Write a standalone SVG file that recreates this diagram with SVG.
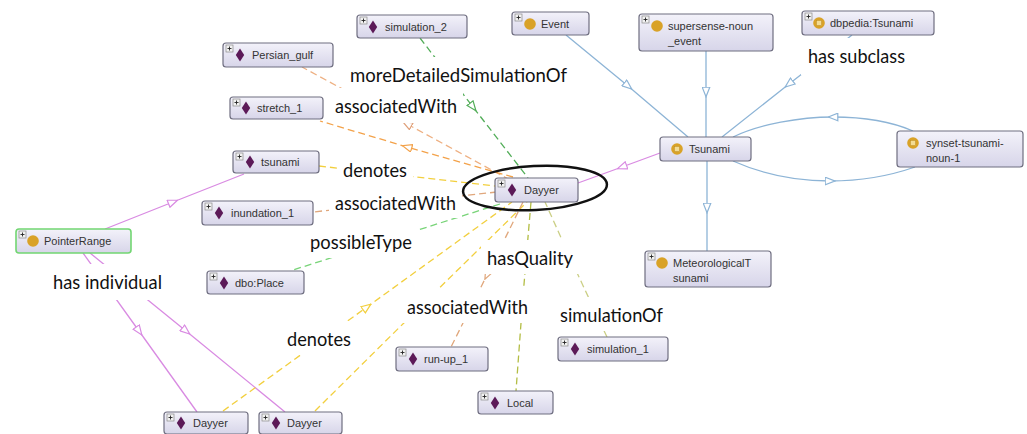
<svg xmlns="http://www.w3.org/2000/svg" xmlns:xlink="http://www.w3.org/1999/xlink" width="1027" height="434" viewBox="0 0 1027 434">
<style>
.box{fill:url(#boxg);stroke:#6f6e80;stroke-width:1.2}
.boxg{fill:url(#boxg);stroke:#72d672;stroke-width:1.6}
.nt{font-family:"Liberation Sans",Arial,sans-serif;font-size:11px;fill:#333}
.lbl{font-family:Lato,"Liberation Sans",sans-serif;font-size:19px;fill:#111}
.bg{fill:#fff}
.e{fill:none;stroke-width:1.3}
.d{stroke-dasharray:7 4}
</style>
<defs>
<linearGradient id="boxg" x1="0" y1="0" x2="0" y2="1">
<stop offset="0" stop-color="#f3f2fa"/>
<stop offset="1" stop-color="#d7d5e9"/>
</linearGradient>
<g id="plus"><rect x="0" y="0" width="7" height="7" fill="#f2f2f2" stroke="#8a8a8a" stroke-width="0.7"/><path d="M1.5,3.5H5.5M3.5,1.5V5.5" stroke="#222" stroke-width="0.9"/></g>
<path id="dia" d="M0,-6.5L4.2,0L0,6.5L-4.2,0Z" fill="#5c1a58"/>
<circle id="cls" r="5.8" fill="#d9a227"/>
<g id="eq"><circle r="5.8" fill="#d9a227"/><rect x="-2.6" y="-2.6" width="5.2" height="5.2" fill="#f3dc94" stroke="#b98a1e" stroke-width="0.5"/></g>
<marker id="m-blue" viewBox="0 0 11 9" refX="5.5" refY="4.5" markerWidth="11" markerHeight="9" markerUnits="userSpaceOnUse" orient="auto"><path d="M0.7,0.7L10.3,4.5L0.7,8.3Z" fill="#fff" stroke="#8db4d6" stroke-width="1.2"/></marker>
<marker id="m-mag" viewBox="0 0 11 9" refX="5.5" refY="4.5" markerWidth="11" markerHeight="9" markerUnits="userSpaceOnUse" orient="auto"><path d="M0.7,0.7L10.3,4.5L0.7,8.3Z" fill="#fff" stroke="#d98be2" stroke-width="1.2"/></marker>
<marker id="m-green" viewBox="0 0 11 9" refX="5.5" refY="4.5" markerWidth="11" markerHeight="9" markerUnits="userSpaceOnUse" orient="auto"><path d="M0.7,0.7L10.3,4.5L0.7,8.3Z" fill="#fff" stroke="#52ad58" stroke-width="1.2"/></marker>
<marker id="m-orange" viewBox="0 0 11 9" refX="5.5" refY="4.5" markerWidth="11" markerHeight="9" markerUnits="userSpaceOnUse" orient="auto"><path d="M0.7,0.7L10.3,4.5L0.7,8.3Z" fill="#fff" stroke="#f3a24a" stroke-width="1.2"/></marker>
<marker id="m-peach" viewBox="0 0 11 9" refX="5.5" refY="4.5" markerWidth="11" markerHeight="9" markerUnits="userSpaceOnUse" orient="auto"><path d="M0.7,0.7L10.3,4.5L0.7,8.3Z" fill="#fff" stroke="#dfa07a" stroke-width="1.2"/></marker>
<marker id="m-tan" viewBox="0 0 11 9" refX="5.5" refY="4.5" markerWidth="11" markerHeight="9" markerUnits="userSpaceOnUse" orient="auto"><path d="M0.7,0.7L10.3,4.5L0.7,8.3Z" fill="#fff" stroke="#e0a77c" stroke-width="1.2"/></marker>
<marker id="m-yellow" viewBox="0 0 11 9" refX="5.5" refY="4.5" markerWidth="11" markerHeight="9" markerUnits="userSpaceOnUse" orient="auto"><path d="M0.7,0.7L10.3,4.5L0.7,8.3Z" fill="#fff" stroke="#f2cf3e" stroke-width="1.2"/></marker>
<marker id="m-lgreen" viewBox="0 0 11 9" refX="5.5" refY="4.5" markerWidth="11" markerHeight="9" markerUnits="userSpaceOnUse" orient="auto"><path d="M0.7,0.7L10.3,4.5L0.7,8.3Z" fill="#fff" stroke="#78d478" stroke-width="1.2"/></marker>
<marker id="m-olive" viewBox="0 0 11 9" refX="5.5" refY="4.5" markerWidth="11" markerHeight="9" markerUnits="userSpaceOnUse" orient="auto"><path d="M0.7,0.7L10.3,4.5L0.7,8.3Z" fill="#fff" stroke="#b3bd44" stroke-width="1.2"/></marker>
<marker id="m-lolive" viewBox="0 0 11 9" refX="5.5" refY="4.5" markerWidth="11" markerHeight="9" markerUnits="userSpaceOnUse" orient="auto"><path d="M0.7,0.7L10.3,4.5L0.7,8.3Z" fill="#fff" stroke="#cbcf85" stroke-width="1.2"/></marker>
</defs>
<rect width="1027" height="434" fill="#fff"/>
<g id="connectors">
<path class="e" stroke="#8db4d6" marker-mid="url(#m-blue)" d="M566,35L628,86L688,137"/>
<path class="e" stroke="#8db4d6" marker-mid="url(#m-blue)" d="M706,51L706,92L706,137"/>
<path class="e" stroke="#8db4d6" marker-mid="url(#m-blue)" d="M852,35L789,84L722,137"/>
<path class="e" stroke="#8db4d6" marker-mid="url(#m-blue)" d="M707,161L707,208L707,251"/>
<path class="e" stroke="#8db4d6" marker-mid="url(#m-blue)" d="M913,131C890,121 860,117 833,117C800,117 760,124 733,137"/>
<path class="e" stroke="#8db4d6" marker-mid="url(#m-blue)" d="M733,161C760,173 795,181 830,181C865,181 895,174 915,167"/>
<path class="e" stroke="#d98be2" marker-mid="url(#m-mag)" d="M660,153L622,167L578,183"/>
<path class="e" stroke="#d98be2" marker-mid="url(#m-mag)" d="M105,229L173,202L244,174"/>
<path class="e" stroke="#d98be2" marker-mid="url(#m-mag)" d="M83,253L139,331L197,412"/>
<path class="e" stroke="#d98be2" marker-mid="url(#m-mag)" d="M90,253L186,331L285,412"/>
<path class="e d" stroke="#52ad58" marker-mid="url(#m-green)" d="M420,38L473,107L528,178"/>
<path class="e d" stroke="#eeb082" marker-mid="url(#m-peach)" d="M510,180L407,124L302,67"/>
<path class="e d" stroke="#f3a24a" marker-mid="url(#m-orange)" d="M513,177L407,147L320,121"/>
<path class="e d" stroke="#f2cf3e" marker-mid="url(#m-yellow)" d="M319,166L407,176L495,186"/>
<path class="e d" stroke="#e0a77c" marker-mid="url(#m-tan)" d="M497,192L405,202L313,212"/>
<path class="e d" stroke="#78d478" marker-mid="url(#m-lgreen)" d="M500,204L396,237L293,270"/>
<path class="e d" stroke="#f2cf3e" marker-mid="url(#m-yellow)" d="M223,411L367,307L512,202"/>
<path class="e d" stroke="#f2cf3e" marker-mid="url(#m-yellow)" d="M315,411L421,306L527,202"/>
<path class="e d" stroke="#e0a77c" marker-mid="url(#m-tan)" d="M523,202L487,275L451,347"/>
<path class="e d" stroke="#b3bd44" marker-mid="url(#m-olive)" d="M531,202L523,296L516,391"/>
<path class="e d" stroke="#cbcf85" marker-mid="url(#m-lolive)" d="M607,337L572,262L545,202"/>
</g>
<g id="labels">
<rect class="bg" x="344" y="57" width="229" height="34"/>
<text class="lbl" x="350" y="82" textLength="217" lengthAdjust="spacingAndGlyphs">moreDetailedSimulationOf</text>
<rect class="bg" x="329" y="88" width="134" height="35"/>
<text class="lbl" x="335" y="113" textLength="122" lengthAdjust="spacingAndGlyphs">associatedWith</text>
<rect class="bg" x="801" y="38" width="111" height="37"/>
<text class="lbl" x="808" y="63" textLength="97" lengthAdjust="spacingAndGlyphs">has subclass</text>
<rect class="bg" x="337" y="152" width="76" height="34"/>
<text class="lbl" x="343" y="177" textLength="64" lengthAdjust="spacingAndGlyphs">denotes</text>
<rect class="bg" x="329" y="185" width="133" height="33"/>
<text class="lbl" x="335" y="210" textLength="121" lengthAdjust="spacingAndGlyphs">associatedWith</text>
<rect class="bg" x="304" y="224" width="114" height="34"/>
<text class="lbl" x="310" y="249" textLength="102" lengthAdjust="spacingAndGlyphs">possibleType</text>
<rect class="bg" x="47" y="264" width="121" height="36"/>
<text class="lbl" x="53" y="289" textLength="109" lengthAdjust="spacingAndGlyphs">has individual</text>
<rect class="bg" x="481" y="240" width="98" height="34"/>
<text class="lbl" x="487" y="265" textLength="86" lengthAdjust="spacingAndGlyphs">hasQuality</text>
<rect class="bg" x="401" y="289" width="133" height="34"/>
<text class="lbl" x="407" y="314" textLength="121" lengthAdjust="spacingAndGlyphs">associatedWith</text>
<rect class="bg" x="554" y="297" width="115" height="34"/>
<text class="lbl" x="560" y="322" textLength="103" lengthAdjust="spacingAndGlyphs">simulationOf</text>
<rect class="bg" x="281" y="321" width="76" height="34"/>
<text class="lbl" x="287" y="346" textLength="64" lengthAdjust="spacingAndGlyphs">denotes</text>
</g>
<g id="n-simulation_2"><rect class="box" x="357" y="15" width="110" height="23" rx="3"/><use href="#plus" x="360" y="17"/><use href="#dia" x="373" y="27"/><text class="nt" x="385" y="31">simulation_2</text></g>
<g id="n-Persian_gulf"><rect class="box" x="223" y="43" width="110" height="24" rx="3"/><use href="#plus" x="226" y="45"/><use href="#dia" x="240" y="55"/><text class="nt" x="252" y="59">Persian_gulf</text></g>
<g id="n-stretch_1"><rect class="box" x="230" y="97" width="93" height="22" rx="3"/><use href="#plus" x="233" y="99"/><use href="#dia" x="246" y="108"/><text class="nt" x="257" y="112">stretch_1</text></g>
<g id="n-Event"><rect class="box" x="512" y="12" width="77" height="23" rx="3"/><use href="#plus" x="515" y="14"/><use href="#cls" x="530" y="24"/><text class="nt" x="541" y="28">Event</text></g>
<g id="n-supersense"><rect class="box" x="639" y="14" width="134" height="37" rx="3"/><use href="#plus" x="642" y="16"/><use href="#cls" x="657" y="26"/><text class="nt" x="668" y="30">supersense-noun</text><text class="nt" x="668" y="45">_event</text></g>
<g id="n-dbpedia_Tsunami"><rect class="box" x="802" y="11" width="132" height="24" rx="3"/><use href="#plus" x="805" y="13"/><use href="#eq" x="819" y="23"/><text class="nt" x="830" y="27">dbpedia:Tsunami</text></g>
<g id="n-tsunami"><rect class="box" x="233" y="151" width="86" height="22" rx="3"/><use href="#plus" x="236" y="153"/><use href="#dia" x="250" y="162"/><text class="nt" x="261" y="166">tsunami</text></g>
<g id="n-inundation_1"><rect class="box" x="202" y="201" width="111" height="24" rx="3"/><use href="#plus" x="205" y="203"/><use href="#dia" x="219" y="213"/><text class="nt" x="231" y="217">inundation_1</text></g>
<g id="n-PointerRange"><rect class="boxg" x="16" y="229" width="115" height="24" rx="3"/><use href="#plus" x="19" y="231"/><use href="#cls" x="33" y="241"/><text class="nt" x="44" y="245">PointerRange</text></g>
<g id="n-dbo_Place"><rect class="box" x="207" y="271" width="97" height="23" rx="3"/><use href="#plus" x="210" y="273"/><use href="#dia" x="224" y="283"/><text class="nt" x="235" y="287">dbo:Place</text></g>
<g id="n-Dayyer"><rect class="box" x="495" y="178" width="83" height="24" rx="3"/><use href="#plus" x="498" y="180"/><use href="#dia" x="512" y="190"/><text class="nt" x="524" y="194">Dayyer</text></g>
<g id="n-Tsunami"><rect class="box" x="660" y="137" width="91" height="24" rx="3"/><use href="#eq" x="677" y="149"/><text class="nt" x="689" y="153">Tsunami</text></g>
<g id="n-synset"><rect class="box" x="897" y="131" width="126" height="36" rx="3"/><use href="#eq" x="913" y="143"/><text class="nt" x="926" y="147">synset-tsunami-</text><text class="nt" x="926" y="162">noun-1</text></g>
<g id="n-MeteorologicalTsunami"><rect class="box" x="645" y="251" width="126" height="36" rx="3"/><use href="#plus" x="648" y="253"/><use href="#cls" x="662" y="263"/><text class="nt" x="673" y="267">MeteorologicalT</text><text class="nt" x="673" y="282">sunami</text></g>
<g id="n-Dayyer_1"><rect class="box" x="164" y="412" width="84" height="22" rx="3"/><use href="#plus" x="167" y="414"/><use href="#dia" x="181" y="423"/><text class="nt" x="193" y="427">Dayyer</text></g>
<g id="n-Dayyer_2"><rect class="box" x="259" y="412" width="83" height="22" rx="3"/><use href="#plus" x="262" y="414"/><use href="#dia" x="276" y="423"/><text class="nt" x="287" y="427">Dayyer</text></g>
<g id="n-run-up_1"><rect class="box" x="396" y="347" width="92" height="24" rx="3"/><use href="#plus" x="399" y="349"/><use href="#dia" x="413" y="359"/><text class="nt" x="424" y="363">run-up_1</text></g>
<g id="n-Local"><rect class="box" x="478" y="391" width="75" height="23" rx="3"/><use href="#plus" x="481" y="393"/><use href="#dia" x="495" y="403"/><text class="nt" x="507" y="407">Local</text></g>
<g id="n-simulation_1"><rect class="box" x="558" y="337" width="110" height="24" rx="3"/><use href="#plus" x="561" y="339"/><use href="#dia" x="575" y="349"/><text class="nt" x="587" y="353">simulation_1</text></g>
<ellipse id="highlight" cx="535" cy="188" rx="72" ry="22" fill="none" stroke="#111" stroke-width="2.5" transform="rotate(-3 535 188)"/>
</svg>
